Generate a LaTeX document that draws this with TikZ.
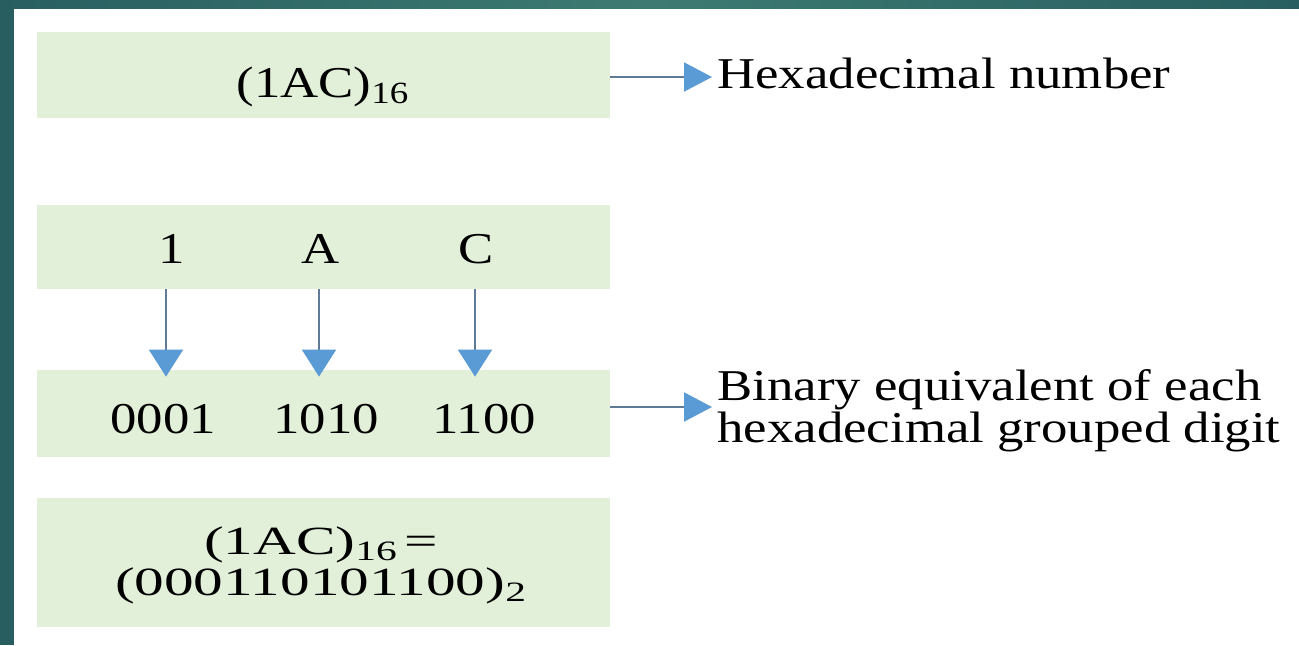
\documentclass[tikz,border=0pt]{standalone}
\usepackage{fontspec}
\setmainfont{Liberation Serif}[FakeStretch=1.2]
\newfontfamily\widefont{Liberation Serif}[FakeStretch=1.48]
\usetikzlibrary{arrows.meta}
\definecolor{boxgreen}{HTML}{E2EFD9}
\definecolor{tealA}{HTML}{285E60}
\definecolor{tealB}{HTML}{3D7B72}
\definecolor{arrowblue}{HTML}{5B9BD5}
\definecolor{shaftcol}{HTML}{5F7B96}
\tikzset{
  greenbox/.style={fill=boxgreen, draw=none, inner sep=0pt, minimum width=286.5pt},
  lbl/.style={font=\fontsize{22}{26}\selectfont, inner sep=0pt, text=black},
  harrow/.style={draw=shaftcol, line width=1pt, -{Triangle[length=14pt,width=14.5pt,color=arrowblue]}},
  varrow/.style={draw=shaftcol, line width=1pt, -{Triangle[length=13.5pt,width=17pt,color=arrowblue]}}
}
\begin{document}
\begin{tikzpicture}[x=0.5pt,y=-0.5pt]
\useasboundingbox (0,0) rectangle (1299,645);
\fill[white] (0,0) rectangle (1299,645);
\shade[left color=tealA, right color=tealA, middle color=tealB] (0,0) rectangle (1299,8);
\fill[tealA] (0,0) rectangle (14,645);

% boxes
\node[greenbox, minimum height=43pt] (b1) at (323.5,75) {};
\node[greenbox, minimum height=42pt] (b2) at (323.5,247) {};
\node[greenbox, minimum height=43.5pt] (b3) at (323.5,413.5) {};
\node[greenbox, minimum height=64.5pt] (b4) at (323.5,562.5) {};

% texts
\node[lbl, anchor=base] (hex) at (323,97) {(1AC)\textsubscript{16}};
\node[lbl, anchor=base west] (hexlbl) at (717,88) {Hexadecimal number};

\node[lbl, anchor=base] (d1) at (172,263) {1};
\node[lbl, anchor=base] (d2) at (321,263) {A};
\node[lbl, anchor=base] (d3) at (476,263) {C};

\node[lbl, anchor=base] (g1) at (163,433) {0001};
\node[lbl, anchor=base] (g2) at (326,433) {1010};
\node[lbl, anchor=base] (g3) at (484,433) {1100};

\node[lbl, anchor=west, align=left, font=\fontsize{22}{21}\selectfont] (binlbl) at (717,411)
  {Binary equivalent of each\\hexadecimal grouped digit};

\node[lbl, align=center, font=\widefont\fontsize{20}{20.5}\selectfont] (res) at (321,565)
  {(1AC)\textsubscript{16}\,=\\(000110101100)\textsubscript{2}};

% connectors
\coordinate (v1) at (166,0);
\coordinate (v2) at (319,0);
\coordinate (v3) at (475,0);
\draw[harrow, shorten >=2.5pt] (b1.east |- 0,77) -- (hexlbl.west |- 0,77);
\draw[harrow, shorten >=2.5pt] (b3.east |- 0,407) -- (binlbl.west |- 0,407);
\draw[varrow, shorten >=-3.5pt] (v1 |- b2.south) -- (v1 |- b3.north);
\draw[varrow, shorten >=-3.5pt] (v2 |- b2.south) -- (v2 |- b3.north);
\draw[varrow, shorten >=-3.5pt] (v3 |- b2.south) -- (v3 |- b3.north);
\end{tikzpicture}
\end{document}
